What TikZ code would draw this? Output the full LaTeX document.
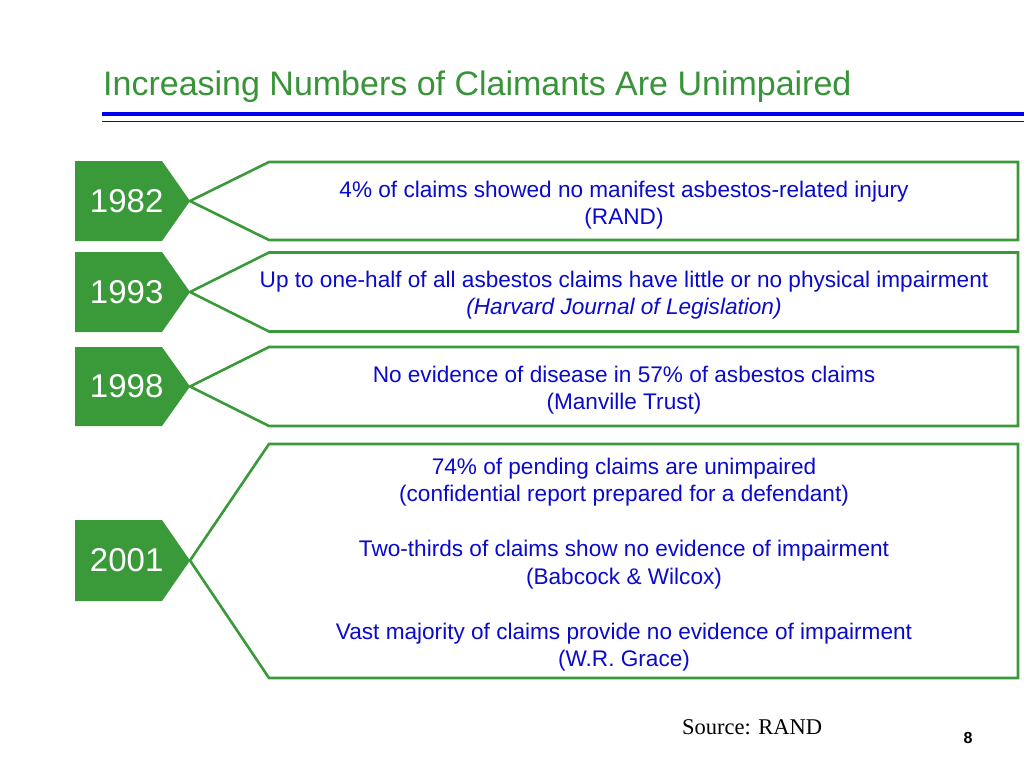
\documentclass[tikz,border=0pt]{standalone}
\usepackage{fontspec}
\setmainfont{Liberation Sans}
\newfontfamily\seriffont{Liberation Serif}
\definecolor{grn}{RGB}{58,154,58}
\definecolor{ttl}{RGB}{56,148,56}
\definecolor{bodyblue}{RGB}{10,10,205}
\definecolor{rule}{RGB}{0,0,240}
\begin{document}
\begin{tikzpicture}[x=1pt,y=-1pt,
  yearbox/.style={fill=grn},
  yeartext/.style={text=white,font=\fontsize{33}{36}\selectfont,inner sep=0pt},
  callout/.style={draw=grn,line width=2.6pt,line join=miter},
  bodytext/.style={text=bodyblue,align=center,inner sep=0pt,font=\fontsize{22.6}{27.5}\selectfont}]
\useasboundingbox[fill=white] (0,0) rectangle (1024,768);
% title
\node[anchor=base west,inner sep=0pt,text=ttl,font=\fontsize{34}{40}\selectfont] (title) at (103,95.5) {Increasing Numbers of Claimants Are Unimpaired};
\fill[rule] (102,111.7) rectangle (1024,115.7);
\fill[rule] (102,120.5) rectangle (1024,122.2);
% year rows: pentagon top, bottom, callout top, bottom
\foreach \nm/\yr/\pt/\pb/\ct/\cb in {a/1982/161/241/162/240, b/1993/252/332/252.5/331.5, c/1998/347/426/347/426, d/2001/520/601/444/678}{
  \pgfmathsetmacro{\pm}{(\pt+\pb)/2}
  \coordinate (tip\nm) at (190,\pm);
  \fill[yearbox] (75,\pt) -- (162,\pt) -- (tip\nm) -- (162,\pb) -- (75,\pb) -- cycle;
  \node[yeartext] (year\nm) at (126.7,\pm) {\yr};
  \draw[callout] (tip\nm) -- (269,\ct) -- (1018,\ct) -- (1018,\cb) -- (269,\cb) -- cycle;
}
\node[bodytext] (texta) at (624,205) {4\% of claims showed no manifest asbestos-related injury\\(RAND)};
\node[bodytext] (textb) at (624,295) {Up to one-half of all asbestos claims have little or no physical impairment\\\textit{(Harvard Journal of Legislation)}};
\node[bodytext] (textc) at (624,390) {No evidence of disease in 57\% of asbestos claims\\(Manville Trust)};
\node[bodytext] (textd) at (624,564.5) {74\% of pending claims are unimpaired\\(confidential report prepared for a defendant)\\[27.5pt]Two-thirds of claims show no evidence of impairment\\(Babcock \& Wilcox)\\[27.5pt]Vast majority of claims provide no evidence of impairment\\(W.R. Grace)};
% footer
\node[anchor=base west,inner sep=0pt,font=\seriffont\fontsize{22.5}{26}\selectfont] (source) at (682,734) {Source: RAND};
\node[anchor=base,inner sep=0pt,font=\bfseries\fontsize{16}{18}\selectfont] (page) at (968,743) {8};
\end{tikzpicture}
\end{document}
